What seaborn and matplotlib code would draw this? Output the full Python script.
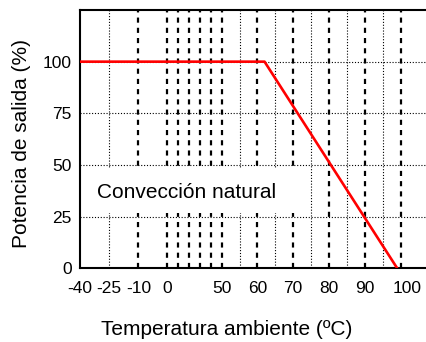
import numpy as np
import pandas as pd
import matplotlib
matplotlib.use("Agg")
import matplotlib.pyplot as plt
import matplotlib.transforms as mtransforms
from matplotlib.patches import Rectangle
import seaborn as sns

# ---- data ----
temp = [-40, 62, 99]
power = [100, 100, 0]
xticks = [-40, -25, -10, 0, 50, 60, 70, 80, 90, 100]
xticklabels = ["-40", "-25", "-10", "0", "50", "60", "70", "80", "90", "100"]
yticks = [0, 25, 50, 75, 100]
dashed_x = [-10, 0, 10, 20, 30, 40, 50, 60, 70, 80, 90, 100]
dotted_x = [-25, 55, 65, 75, 85, 95]
dotted_y = [25, 50, 75, 100]
label_text = "Convección natural"

sns.set_style("white")
plt.rcParams["font.family"] = ["Liberation Sans", "DejaVu Sans"]
plt.rcParams.update({"text.color": "black", "axes.labelcolor": "black",
                     "xtick.color": "black", "ytick.color": "black"})

# piecewise-linear (irregular) temperature axis
bp_data = np.array([-1000, -40, -10, 0, 50, 60, 100, 1000], dtype=float)
bp_pos = np.array([80 - 960 * 58.3 / 30, 80, 138.3, 167.3, 222, 257.3, 400.7,
                   400.7 + 900 * 3.585])

def fwd(x):
    return np.interp(x, bp_data, bp_pos)

def inv(p):
    return np.interp(p, bp_pos, bp_data)

fig = plt.figure(figsize=(4.27, 3.42), dpi=100)
ax = fig.add_axes([80 / 427, (342 - 268.3) / 342, 1 - 80 / 427, (268.3 - 10) / 342])
ax.set_xscale("function", functions=(fwd, inv))
ax.set_xlim(-40, 107.3)
ax.set_ylim(0, 125)

for x in dashed_x:
    ax.axvline(x, color="black", lw=1.6, linestyle=(0, (2.3, 2.3)), zorder=1)
for x in dotted_x:
    ax.axvline(x, color="black", lw=0.8, linestyle=(0, (1, 1.6)), zorder=1)

ax.add_patch(Rectangle((-39, 26.6), 111, 21.8, facecolor="white",
                       edgecolor="none", zorder=1.5))

for y in dotted_y:
    ax.axhline(y, color="black", lw=0.8, linestyle=(0, (1, 1.6)), zorder=2)

df = pd.DataFrame({"temp": temp, "power": power})
sns.lineplot(data=df, x="temp", y="power", color="#ff0000", lw=1.9, ax=ax,
             zorder=3, sort=False)

ax.text(-31.2, 36.9, label_text, fontsize=15, ha="left", va="center",
        color="black", zorder=4)

ax.set_xticks(xticks)
ax.set_xticklabels(xticklabels)
ax.set_yticks(yticks)
ax.tick_params(axis="both", length=0, labelsize=12.5, labelcolor="black")
ax.tick_params(axis="x", pad=9)
ax.tick_params(axis="y", pad=6)
ax.xaxis.set_minor_locator(matplotlib.ticker.NullLocator())

lab = ax.get_xticklabels()[-1]
lab.set_transform(lab.get_transform() +
                  mtransforms.ScaledTranslation(6 / 100, 0, fig.dpi_scale_trans))

ax.set_xlabel("Temperatura ambiente (ºC)", fontsize=15, color="black")
ax.set_ylabel("Potencia de salida (%)", fontsize=15, color="black")
ax.xaxis.set_label_coords((227 - 80) / 347, -52 / 258.3)
ax.yaxis.set_label_coords((31 - 80) / 347, 0.483)

for s in ["left", "bottom", "top"]:
    ax.spines[s].set_visible(True)
    ax.spines[s].set_color("black")
    ax.spines[s].set_linewidth(1.5)
ax.spines["right"].set_visible(False)

fig.savefig("out.png", dpi=100)
